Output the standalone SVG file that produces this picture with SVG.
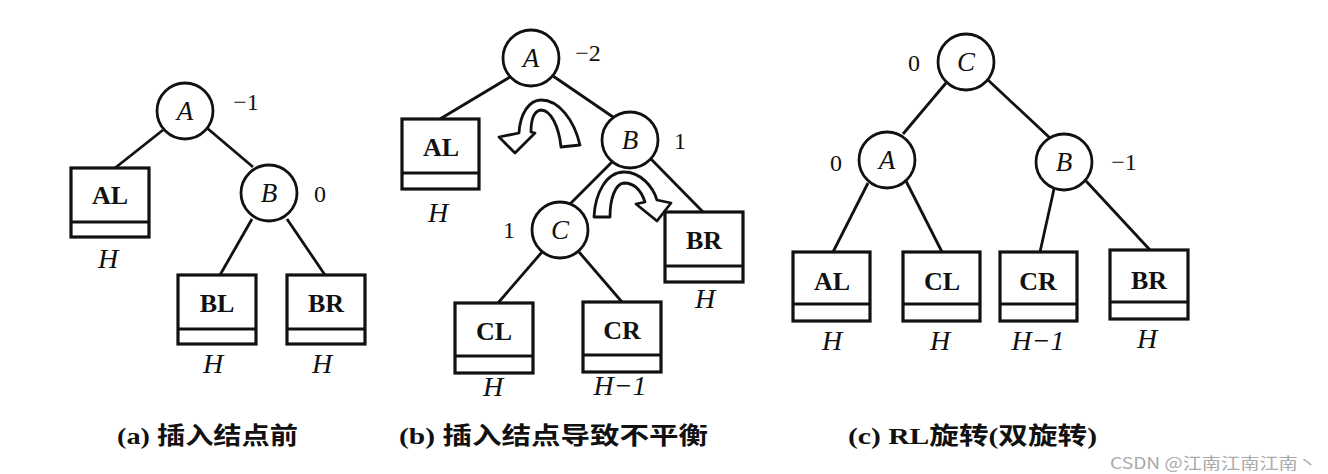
<svg xmlns="http://www.w3.org/2000/svg" width="1328" height="474" viewBox="0 0 1328 474">
<style>
.n{fill:#fff;stroke:#111;stroke-width:2.8}
.b{fill:#fff;stroke:#111;stroke-width:3.2}
.bl{stroke:#111;stroke-width:3}
.e{stroke:#111;stroke-width:2.8;fill:none}
.lt{font-family:"Liberation Serif",serif;font-style:italic;font-size:27px;fill:#111;text-anchor:middle}
.bt{font-family:"Liberation Serif",serif;font-weight:bold;font-size:26px;fill:#111;text-anchor:middle}
.h{font-family:"Liberation Serif",serif;font-style:italic;font-size:28px;fill:#111;text-anchor:middle}
.f{font-family:"Liberation Serif",serif;font-size:24px;fill:#111;text-anchor:middle}
.cap{font-family:"Liberation Serif","Noto Sans CJK SC",serif;font-weight:bold;font-size:24px;fill:#111}
.arr{fill:#fff;stroke:#111;stroke-width:2.8;stroke-linejoin:round}
.wm{font-family:"Noto Sans CJK SC","Noto Sans",sans-serif;font-size:16px;fill:#aaa}
</style>
<rect width="1328" height="474" fill="#fff"/>
<g id="connectors">
<line class="e" x1="163" y1="130" x2="115" y2="168"/>
<line class="e" x1="207" y1="128" x2="253" y2="167"/>
<line class="e" x1="252" y1="219" x2="220" y2="275"/>
<line class="e" x1="287" y1="219" x2="325" y2="275"/>
<line class="e" x1="510" y1="77" x2="440" y2="119"/>
<line class="e" x1="553" y1="76" x2="613" y2="117"/>
<line class="e" x1="612" y1="162" x2="570" y2="204"/>
<line class="e" x1="651" y1="159" x2="703" y2="212"/>
<line class="e" x1="542" y1="252" x2="498" y2="303"/>
<line class="e" x1="579" y1="252" x2="622" y2="302"/>
<line class="e" x1="946" y1="83" x2="903" y2="134"/>
<line class="e" x1="988" y1="80" x2="1050" y2="138"/>
<line class="e" x1="868" y1="183" x2="833" y2="252"/>
<line class="e" x1="906" y1="181" x2="942" y2="252"/>
<line class="e" x1="1054" y1="189" x2="1040" y2="252"/>
<line class="e" x1="1086" y1="181" x2="1150" y2="250"/>
</g>
<g id="rotation-arrows">
<path class="arr" d="M 561,147 C 559,127 551,110 541,110 C 533,111 531,121 531,132 L 535,133 L 515,153 L 499,137 L 519,133 C 520,114 529,100 541,100 C 559,100 574,120 580,145 Z"/>
<path class="arr" d="M 594,217 C 595,194 606,172 624,172 C 641,172 653,187 657,200 L 671,203 L 657,221 L 636,204 L 645,202 C 641,190 634,183 624,183 C 615,184 610,199 610,217 Z"/>
</g>
<!-- panel a -->
<g id="a-A"><circle class="n" cx="185" cy="111" r="28"/><text class="lt" x="185" y="120">A</text><text class="f" x="246" y="110">−1</text></g>
<g id="a-B"><circle class="n" cx="269" cy="193" r="28"/><text class="lt" x="269" y="202">B</text><text class="f" x="320" y="202">0</text></g>
<g id="a-AL"><rect class="b" x="71" y="168" width="78" height="69"/><line class="bl" x1="71" y1="222" x2="149" y2="222"/><text class="bt" x="110" y="204">AL</text><text class="h" x="108" y="268">H</text></g>
<g id="a-BL"><rect class="b" x="178" y="275" width="78" height="69"/><line class="bl" x1="178" y1="329" x2="256" y2="329"/><text class="bt" x="217" y="312">BL</text><text class="h" x="213" y="373">H</text></g>
<g id="a-BR"><rect class="b" x="287" y="275" width="78" height="69"/><line class="bl" x1="287" y1="329" x2="365" y2="329"/><text class="bt" x="326" y="312">BR</text><text class="h" x="322" y="373">H</text></g>
<!-- panel b -->
<g id="b-A"><circle class="n" cx="531" cy="58" r="28"/><text class="lt" x="531" y="67">A</text><text class="f" x="588" y="61">−2</text></g>
<g id="b-B"><circle class="n" cx="630" cy="140" r="28"/><text class="lt" x="630" y="149">B</text><text class="f" x="680" y="149">1</text></g>
<g id="b-C"><circle class="n" cx="560" cy="230" r="28"/><text class="lt" x="560" y="239">C</text><text class="f" x="509" y="238">1</text></g>
<g id="b-AL"><rect class="b" x="402" y="119" width="77" height="70"/><line class="bl" x1="402" y1="173" x2="479" y2="173"/><text class="bt" x="441" y="156">AL</text><text class="h" x="438" y="222">H</text></g>
<g id="b-BR"><rect class="b" x="665" y="212" width="78" height="70"/><line class="bl" x1="665" y1="266" x2="743" y2="266"/><text class="bt" x="704" y="249">BR</text><text class="h" x="705" y="308">H</text></g>
<g id="b-CL"><rect class="b" x="455" y="303" width="78" height="70"/><line class="bl" x1="455" y1="356" x2="533" y2="356"/><text class="bt" x="494" y="340">CL</text><text class="h" x="493" y="396">H</text></g>
<g id="b-CR"><rect class="b" x="583" y="302" width="78" height="70"/><line class="bl" x1="583" y1="355" x2="661" y2="355"/><text class="bt" x="622" y="339">CR</text><text class="h" x="620" y="395">H−1</text></g>
<!-- panel c -->
<g id="c-C"><circle class="n" cx="966" cy="62" r="28"/><text class="lt" x="966" y="71">C</text><text class="f" x="914" y="71">0</text></g>
<g id="c-A"><circle class="n" cx="887" cy="160" r="28"/><text class="lt" x="887" y="169">A</text><text class="f" x="836" y="171">0</text></g>
<g id="c-B"><circle class="n" cx="1064" cy="162" r="28"/><text class="lt" x="1064" y="171">B</text><text class="f" x="1124" y="170">−1</text></g>
<g id="c-AL"><rect class="b" x="793" y="252" width="77" height="69"/><line class="bl" x1="793" y1="304" x2="870" y2="304"/><text class="bt" x="832" y="290">AL</text><text class="h" x="832" y="350">H</text></g>
<g id="c-CL"><rect class="b" x="903" y="252" width="77" height="69"/><line class="bl" x1="903" y1="304" x2="980" y2="304"/><text class="bt" x="942" y="290">CL</text><text class="h" x="940" y="350">H</text></g>
<g id="c-CR"><rect class="b" x="1000" y="252" width="77" height="69"/><line class="bl" x1="1000" y1="304" x2="1077" y2="304"/><text class="bt" x="1038" y="290">CR</text><text class="h" x="1038" y="350">H−1</text></g>
<g id="c-BR"><rect class="b" x="1110" y="250" width="78" height="69"/><line class="bl" x1="1110" y1="302" x2="1188" y2="302"/><text class="bt" x="1149" y="289">BR</text><text class="h" x="1147" y="348">H</text></g>
<!-- captions -->
<text class="cap" x="117" y="444" textLength="181" lengthAdjust="spacingAndGlyphs">(a) 插入结点前</text>
<text class="cap" x="399" y="444" textLength="309" lengthAdjust="spacingAndGlyphs">(b) 插入结点导致不平衡</text>
<text class="cap" x="848" y="444" textLength="249" lengthAdjust="spacingAndGlyphs">(c) RL旋转(双旋转)</text>
<text class="wm" x="1110" y="469" textLength="207" lengthAdjust="spacingAndGlyphs">CSDN @江南江南江南丶</text>
</svg>
